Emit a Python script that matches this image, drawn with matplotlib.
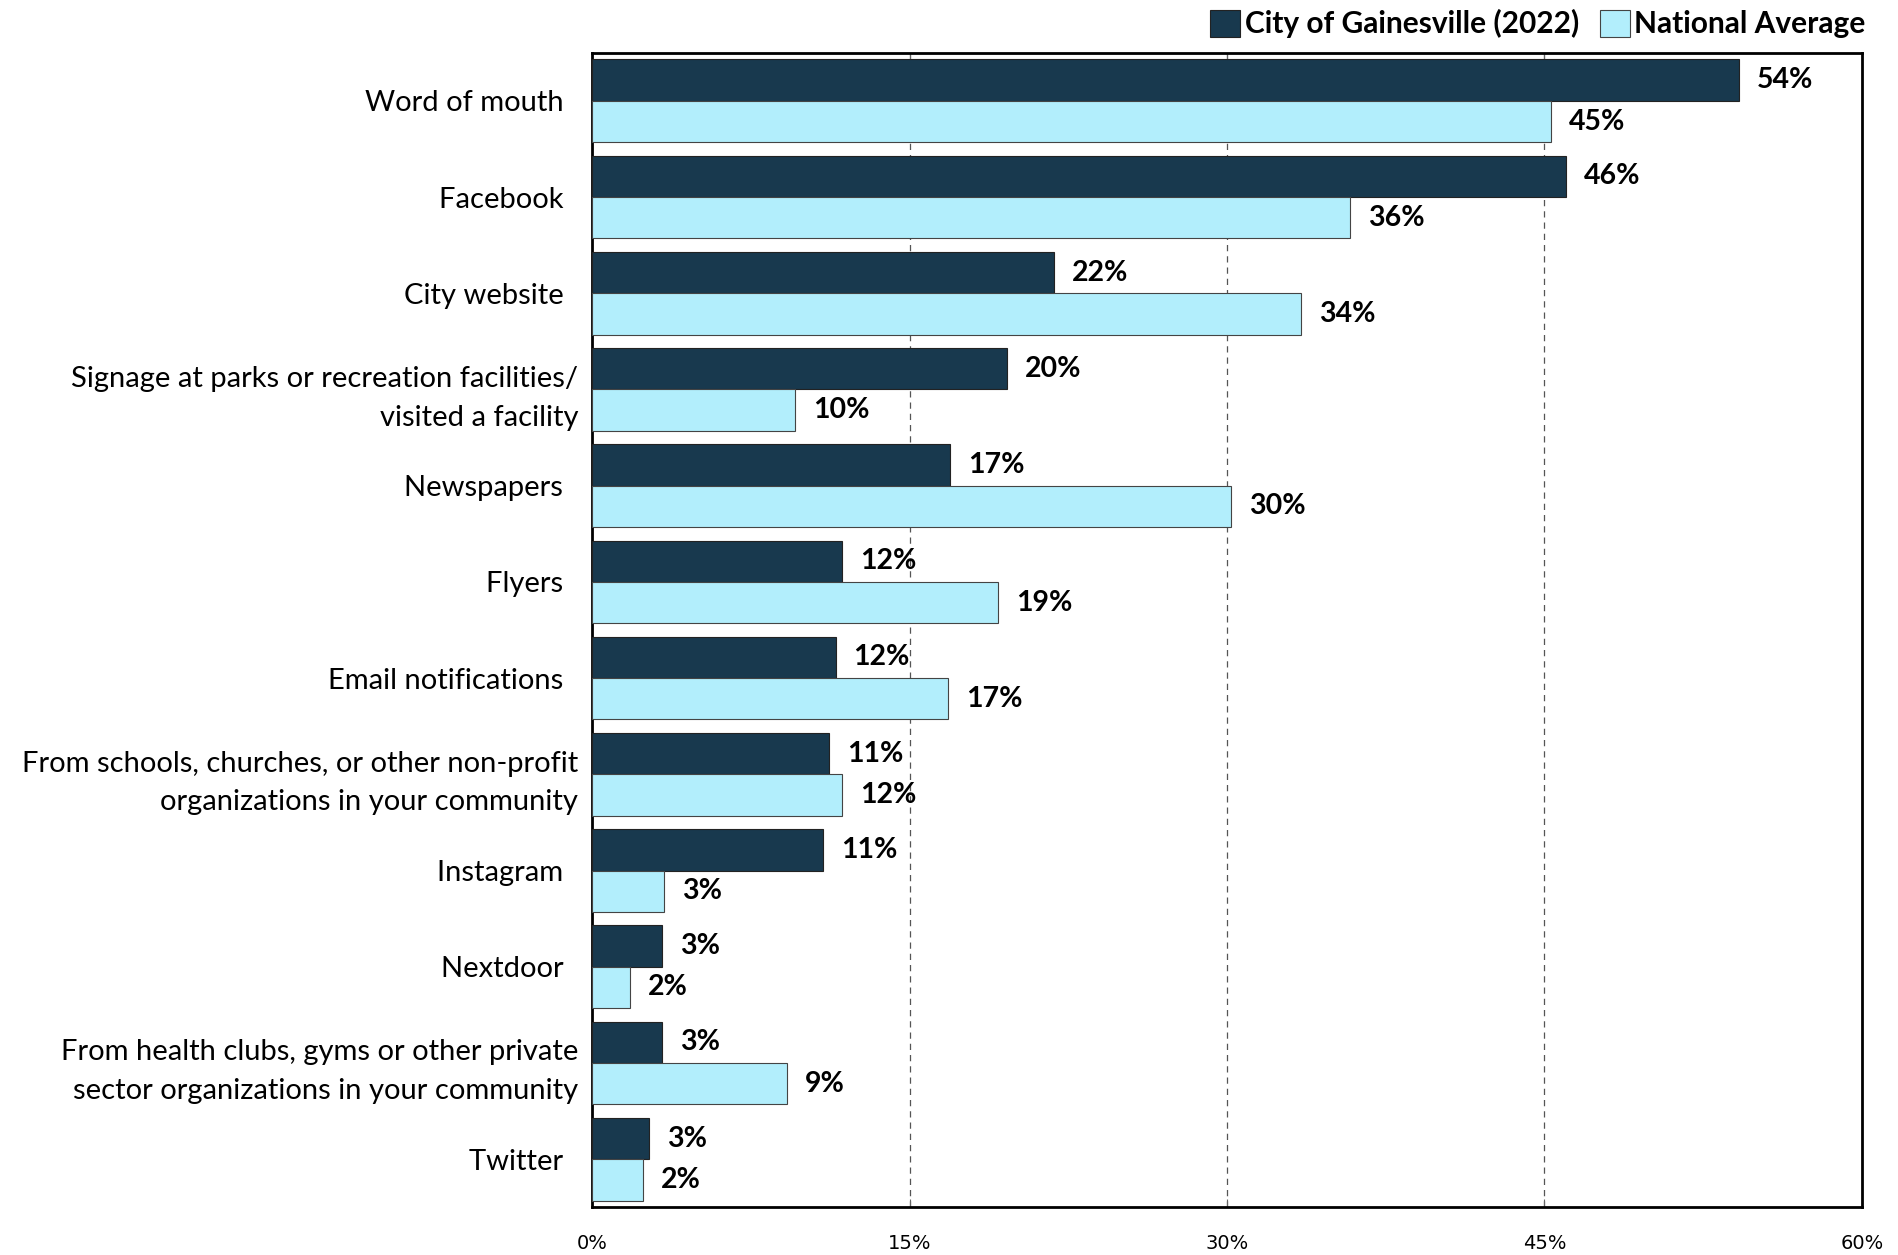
import matplotlib.pyplot as plt
import numpy as np

# categories (top to bottom)
categories = [
    "Word of mouth",
    "Facebook",
    "City website",
    "Signage at parks or recreation facilities/\nvisited a facility",
    "Newspapers",
    "Flyers",
    "Email notifications",
    "From schools, churches, or other non-profit\norganizations in your community",
    "Instagram",
    "Nextdoor",
    "From health clubs, gyms or other private\nsector organizations in your community",
    "Twitter",
]
city = [54.2, 46.0, 21.8, 19.6, 16.9, 11.8, 11.5, 11.2, 10.9, 3.3, 3.3, 2.7]
national = [45.3, 35.8, 33.5, 9.6, 30.2, 19.2, 16.8, 11.8, 3.4, 1.8, 9.2, 2.4]
city_labels = ["54%", "46%", "22%", "20%", "17%", "12%", "12%", "11%", "11%", "3%", "3%", "3%"]
national_labels = ["45%", "36%", "34%", "10%", "30%", "19%", "17%", "12%", "3%", "2%", "9%", "2%"]
xticks = [0, 15, 30, 45, 60]

plt.rcParams['font.family'] = ['Lato', 'DejaVu Sans']

fig = plt.figure(figsize=(18.98, 12.55), dpi=100)
ax = fig.add_axes([0.312, 0.038, 0.669, 0.920])

n = len(categories)
y = np.arange(n)
h = 0.43

dark = '#18394e'
light = '#b2eefc'

b1 = ax.barh(y - h / 2, city, height=h, color=dark, edgecolor='#222222', linewidth=0.8,
             label='City of Gainesville (2022)', zorder=3)
b2 = ax.barh(y + h / 2, national, height=h, color=light, edgecolor='#444444', linewidth=0.8,
             label='National Average', zorder=3)

for bars, labs in ((b1, city_labels), (b2, national_labels)):
    for bar, lab in zip(bars, labs):
        ax.annotate(lab, (bar.get_width(), bar.get_y() + bar.get_height() / 2),
                    xytext=(13, 0), textcoords='offset points', va='center', ha='left',
                    fontsize=20.5, fontweight='bold')

ax.set_xlim(0, 60)
ax.set_ylim(n - 0.5, -0.5)
ax.set_xticks(xticks)
ax.set_xticklabels([f"{t}%" for t in xticks], fontsize=14,
                   family=['Liberation Sans Narrow', 'DejaVu Sans'])
ax.tick_params(axis='x', direction='in', top=True, length=6, pad=19, color='#666666')
ax.set_yticks(y)
# single-line labels sit a bit further from the axis than the wrapped ones
ylabels = [c if "\n" in c else c + "  " for c in categories]
ax.set_yticklabels(ylabels, fontsize=21, linespacing=1.6)
ax.tick_params(axis='y', length=0, pad=10)

for t in xticks[1:-1]:
    ax.axvline(t, color='#555555', linestyle=(0, (5, 4)), linewidth=0.9, zorder=1)

for s in ax.spines.values():
    s.set_linewidth(2)
    s.set_color('black')

leg = fig.legend(loc='upper right', bbox_to_anchor=(0.997, 1.014), ncol=2, frameon=False,
                 prop={'size': 21.5, 'weight': 'bold'}, handlelength=1.0, handleheight=1.0,
                 handletextpad=0.15, columnspacing=0.7)

fig.savefig('out.png', dpi=100)
